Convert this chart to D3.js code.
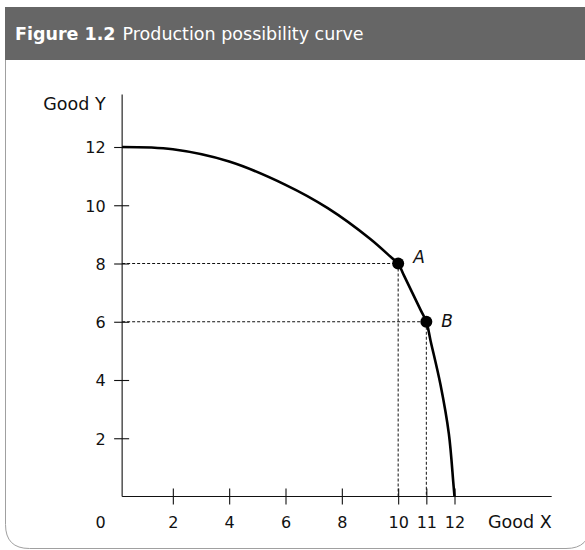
<!DOCTYPE html>
<html>
<head>
<meta charset="utf-8">
<script src="https://cdn.jsdelivr.net/npm/d3@7"></script>
<style>
body { margin: 0; background: #fff; }
</style>
</head>
<body>
<div id="chart"></div>
<script>
// values
var curveX = [0.2, 2, 4, 6, 7.5, 9, 9.8, 10, 10.2, 10.8, 11, 11.15, 11.5, 11.8, 11.96, 12];
var curveY = [12, 11.92, 11.5, 10.7, 9.9, 8.85, 8.17, 8, 7.6, 6.4, 6, 5.35, 3.85, 2.15, 0.45, 0];
var pointNames = ["A", "B"];
var pointX = [10, 11];
var pointY = [8, 6];
var xTicks = [2, 4, 6, 8, 10, 11, 12];
var yTicks = [2, 4, 6, 8, 10, 12];
var xTitle = "Good X";
var yTitle = "Good Y";
var figNum = "Figure 1.2";
var figTitle = "Production possibility curve";

var width = 585, height = 550;
var font = "'DejaVu Sans', sans-serif";

var svg = d3.select("#chart").append("svg")
	.attr("width", width)
	.attr("height", height);

// frame with rounded bottom corners
var fx0 = 5.5, fx1 = 590, fy0 = 7, fy1 = 548.5, r = 24;
svg.append("path")
	.attr("d", "M" + fx0 + "," + fy0 + " V" + (fy1 - r) + " Q" + fx0 + "," + fy1 + " " + (fx0 + r) + "," + fy1 +
		" H" + (fx1 - r) + " Q" + fx1 + "," + fy1 + " " + fx1 + "," + (fy1 - r) + " V" + fy0)
	.attr("fill", "none")
	.attr("stroke", "#a0a0a0")
	.attr("stroke-width", 1);

// header band
svg.append("rect")
	.attr("x", 5).attr("y", 7)
	.attr("width", width - 5).attr("height", 53)
	.attr("fill", "#666666");

var title = svg.append("text")
	.attr("x", 15).attr("y", 40)
	.attr("fill", "#fff")
	.attr("font-family", font)
	.attr("font-size", "17.5px");
title.append("tspan").attr("font-weight", "bold").text(figNum);
title.append("tspan").attr("dx", 7).text(figTitle);

// scales
var x = d3.scaleLinear().domain([0, 12]).range([116.5, 454.5]);
var y = d3.scaleLinear().domain([0, 12]).range([496.5, 147]);
var axisX0 = x(0.2);   // where the y axis sits
var axisXEnd = x(15.45);
var axisYEnd = y(13.8);

var g = svg.append("g");

// x axis
var xAxis = g.append("g")
	.attr("transform", "translate(0," + y(0) + ")")
	.call(d3.axisBottom(x).tickValues(xTicks).tickFormat(d3.format("d")).tickSizeOuter(0));
xAxis.select(".domain").attr("d", "M" + axisX0 + ",0H" + axisXEnd);
xAxis.selectAll(".tick line").attr("y1", -8).attr("y2", 8);
xAxis.selectAll(".tick text")
	.attr("y", 31).attr("dy", 0)
	.attr("font-family", font).attr("font-size", "16px").attr("fill", "#111");

// y axis
var yAxis = g.append("g")
	.attr("transform", "translate(" + axisX0 + ",0)")
	.call(d3.axisLeft(y).tickValues(yTicks).tickFormat(d3.format("d")).tickSizeOuter(0));
yAxis.select(".domain").attr("d", "M0," + y(0) + "V" + axisYEnd);
yAxis.selectAll(".tick line").attr("x1", -8).attr("x2", 7);
yAxis.selectAll(".tick text")
	.attr("x", -16.5).attr("dy", "0.36em")
	.attr("font-family", font).attr("font-size", "16px").attr("fill", "#111");

g.selectAll(".domain, .tick line").attr("stroke", "#111").attr("stroke-width", 1.1);

// origin and axis titles
g.append("text")
	.attr("x", axisX0 - 16.5).attr("y", y(0) + 31)
	.attr("text-anchor", "end")
	.attr("font-family", font).attr("font-size", "16px").attr("fill", "#111")
	.text("0");
g.append("text")
	.attr("x", axisXEnd).attr("y", y(0) + 31)
	.attr("text-anchor", "end")
	.attr("font-family", font).attr("font-size", "17.5px").attr("fill", "#111")
	.text(xTitle);
g.append("text")
	.attr("x", axisX0 - 16.5).attr("y", 110)
	.attr("text-anchor", "end")
	.attr("font-family", font).attr("font-size", "17.5px").attr("fill", "#111")
	.text(yTitle);

// dotted guide lines
var pts = pointNames.map(function(n, i) { return {name: n, x: pointX[i], y: pointY[i]}; });

g.selectAll(".hguide")
	.data(pts).enter().append("line")
	.attr("x1", axisX0).attr("x2", function(d) { return x(d.x); })
	.attr("y1", function(d) { return y(d.y); }).attr("y2", function(d) { return y(d.y); })
	.attr("stroke", "#111").attr("stroke-width", 1).attr("stroke-dasharray", "3,2");
g.selectAll(".vguide")
	.data(pts).enter().append("line")
	.attr("x1", function(d) { return x(d.x); }).attr("x2", function(d) { return x(d.x); })
	.attr("y1", function(d) { return y(d.y); }).attr("y2", y(0))
	.attr("stroke", "#111").attr("stroke-width", 1).attr("stroke-dasharray", "3,2");

// the curve
var line = d3.line()
	.x(function(d) { return x(d[0]); })
	.y(function(d) { return y(d[1]); })
	.curve(d3.curveCatmullRom.alpha(0.5));

g.append("path")
	.datum(curveX.map(function(v, i) { return [v, curveY[i]]; }))
	.attr("d", line)
	.attr("fill", "none")
	.attr("stroke", "#000")
	.attr("stroke-width", 2.6);

// points and labels
var labelDy = {A: -1, B: 5};

g.selectAll(".pt")
	.data(pts).enter().append("circle")
	.attr("cx", function(d) { return x(d.x); })
	.attr("cy", function(d) { return y(d.y); })
	.attr("r", 6)
	.attr("fill", "#000");

g.selectAll(".ptlabel")
	.data(pts).enter().append("text")
	.attr("x", function(d) { return x(d.x) + 15; })
	.attr("y", function(d) { return y(d.y) + labelDy[d.name]; })
	.attr("font-family", font).attr("font-size", "17px")
	.attr("font-style", "italic").attr("fill", "#111")
	.text(function(d) { return d.name; });
</script>
</body>
</html>
